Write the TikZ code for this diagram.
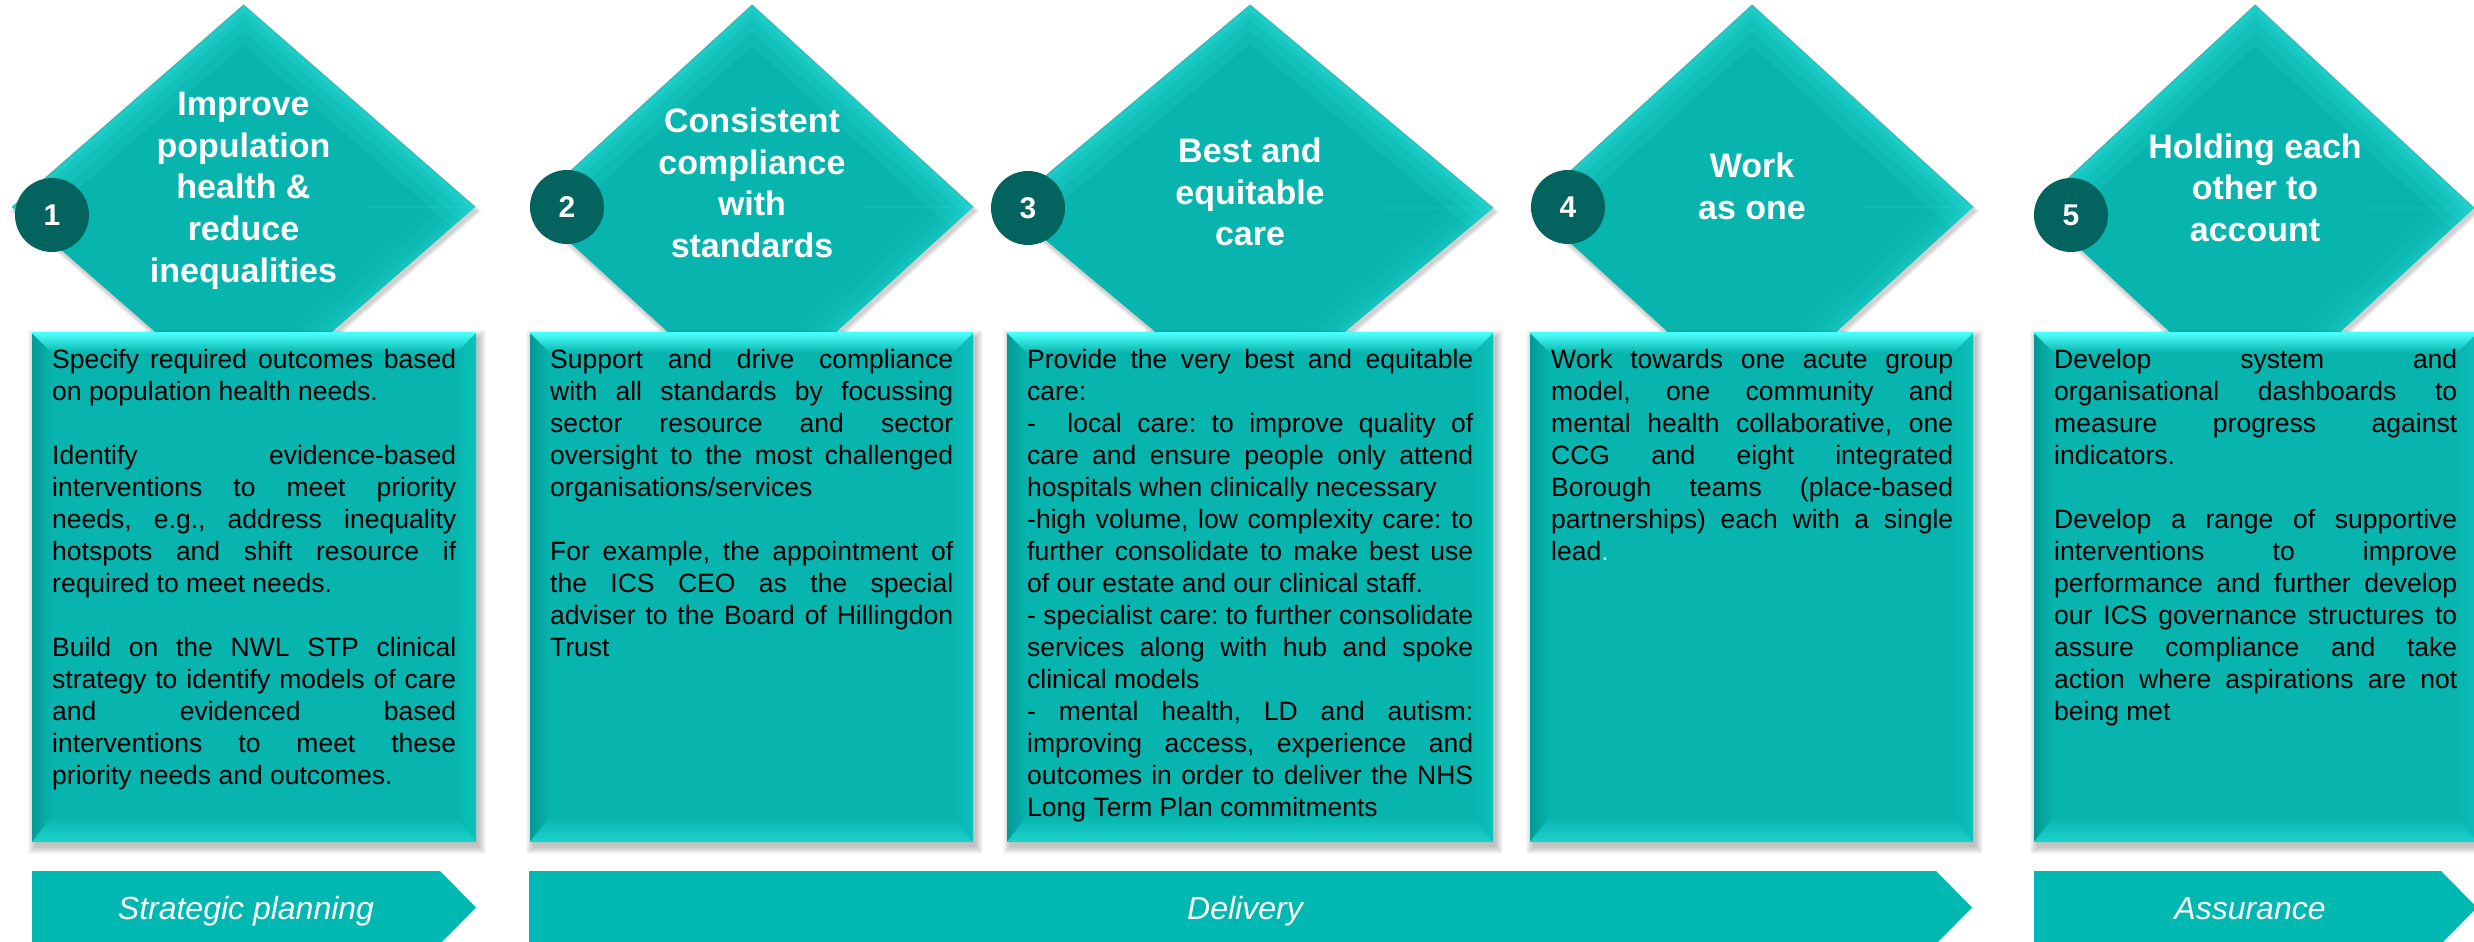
\documentclass[tikz,border=0pt]{standalone}
\usepackage{fontspec}
\setmainfont{Liberation Sans}
\usetikzlibrary{calc}

\definecolor{tealmain}{HTML}{08B4AE}
\definecolor{tealband}{HTML}{00B8B2}
\definecolor{tealdark}{HTML}{03635E}
\definecolor{tealglow}{HTML}{30E4DE}
\definecolor{tealtop}{HTML}{4AFFFB}
\definecolor{tealleft}{HTML}{049A95}
\definecolor{tealright}{HTML}{0BC2BC}
\definecolor{tealbottom}{HTML}{1CD2CC}
\definecolor{tealedge}{HTML}{3E9C98}
\definecolor{dotgrey}{HTML}{BFE9E8}

\hbadness=10000
\hfuzz=8pt

% one justified line: spaces share the extra width evenly
\newlength\linew
\newcommand\jline[1]{\hbox to \linew{\spaceskip=\fontdimen2\font plus 1fil minus 0.06em\relax #1}}
% last line of a paragraph, natural spacing
\newcommand\lastln[1]{\hbox{#1}}
% empty line between paragraphs
\newcommand\gapln{\hbox{}}
% a block of body text; its baseline is the first line's baseline
\newcommand\bodyblock[2]{\vtop{\fontsize{26.5}{32}\selectfont\frenchspacing
  \linew=#1pt\relax\baselineskip=32pt\lineskiplimit=-\maxdimen\relax #2}}
% centred heading lines
\newcommand\ttl[1]{\fontsize{34}{41.7}\selectfont\bfseries\begin{tabular}[t]{@{}c@{}}#1\end{tabular}}

% bevelled diamond: name, centre x, centre y, half width, half height
\newcommand\gem[5]{%
  \coordinate (#1-t) at (#2,{#3-#5});
  \coordinate (#1-l) at ({#2-#4},#3);
  \coordinate (#1-r) at ({#2+#4},#3);
  \coordinate (#1-b) at (#2,{#3+#5});
  \foreach \sh in {0,...,5}{%
    \fill[black,opacity=0.03] ({#2+2},{#3-#5+4-\sh}) -- ({#2-#4+2-\sh},{#3+4})
      -- ({#2+2},{#3+#5+4+\sh}) -- ({#2+#4+2+\sh},{#3+4}) -- cycle;}
  \fill[tealmain] (#1-t) -- (#1-r) -- (#1-b) -- (#1-l) -- cycle;
  \begin{scope}
    \clip (#1-t) -- (#1-r) -- (#1-b) -- (#1-l) -- cycle;
    \foreach \lw/\op/\pp in {60/0.13/0.06,40/0.15/0.08,22/0.18/0.1,10/0.24/0.14}{%
      \draw[tealglow,line width=\lw pt,opacity=\op,line join=miter] (#1-l) -- (#1-t) -- (#1-r);
      \draw[tealglow,line width=\lw pt,opacity=\pp] (#1-r) -- (#1-b);}
    \draw[tealglow,opacity=0.12,line width=1.5pt] ({#2+#4-110},#3) -- (#1-r);
  \end{scope}
  \draw[tealedge,opacity=0.5,line width=1pt,line join=miter] (#1-l) -- (#1-t) -- (#1-r);
}

% bevelled text panel: name, x1, y1, x2, y2
\newcommand\slab[5]{%
  \foreach \sh in {0,...,7}{%
    \fill[black,opacity=0.03] ({#2+3-\sh},{#3+4-\sh}) rectangle ({#4+3+\sh},{#5+5+\sh});}
  \fill[tealmain] (#2,#3) rectangle (#4,#5);
  \shade[left color=tealleft,right color=tealmain]
    (#2,#3) -- ({#2+20},{#3+20}) -- ({#2+20},{#5-26}) -- (#2,#5) -- cycle;
  \shade[left color=tealmain,right color=tealright]
    (#4,#3) -- ({#4-20},{#3+20}) -- ({#4-20},{#5-26}) -- (#4,#5) -- cycle;
  \shade[top color=tealmain,bottom color=tealbottom]
    (#2,#5) -- ({#2+20},{#5-26}) -- ({#4-20},{#5-26}) -- (#4,#5) -- cycle;
  \shade[top color=tealtop,bottom color=tealmain]
    (#2,#3) -- (#4,#3) -- ({#4-20},{#3+20}) -- ({#2+20},{#3+20}) -- cycle;
  \draw[tealtop,line width=1.5pt] (#2,#3) -- (#4,#3);
  \coordinate (#1) at (#2,#3);
}

% arrow-ended phase band: x1, x2 (tip)
\newcommand\phaseband[2]{%
  \fill[tealband] (#1,871) -- ({#2-36},871) -- (#2,907.5) -- ({#2-36},944) -- (#1,944) -- cycle;}

\tikzset{
  numdot/.style={circle,fill=tealdark,minimum size=74pt,inner sep=0pt,text=white,
    font=\fontsize{30}{36}\selectfont\bfseries},
  titletext/.style={inner sep=0pt,text=white,anchor=base},
  bodytext/.style={inner sep=0pt,anchor=base west,text=black},
  bandlabel/.style={inner sep=0pt,anchor=base,text=white,
    font=\fontsize{32}{38}\selectfont\itshape},
}

\begin{document}
\begin{tikzpicture}[x=1pt,y=-1pt]
\useasboundingbox (0,0) rectangle (2474,942);
\fill[white] (0,0) rectangle (2474,942);

% diamonds
\gem{d1}{243.5}{207}{231.5}{202}
\gem{d2}{752}{207}{221}{202}
\gem{d3}{1250}{208}{243}{203}
\gem{d4}{1752}{207}{221}{202}
\gem{d5}{2255}{208}{219}{203}

% text panels
\slab{b1}{32}{333}{476}{842}
\slab{b2}{530}{333}{973}{842}
\slab{b3}{1007}{333}{1493}{842}
\slab{b4}{1530}{333}{1973}{842}
\slab{b5}{2034}{333}{2477}{842}

% phase bands
\phaseband{32}{476}
\phaseband{529}{1972}
\phaseband{2034}{2477}

% numbered dots
\node[numdot] (n1) at (52,215) {1};
\node[numdot] (n2) at (567,207) {2};
\node[numdot] (n3) at (1028,208) {3};
\node[numdot] (n4) at (1568,207) {4};
\node[numdot] (n5) at (2071,215) {5};

% headings
\node[titletext] (t1) at (243.5,115.5) {\ttl{Improve\\population\\health \&\\reduce\\inequalities}};
\node[titletext] (t2) at (752,132.5) {\ttl{Consistent\\compliance\\with\\standards}};
\node[titletext] (t3) at (1250,162.5) {\ttl{Best and\\equitable\\care}};
\node[titletext] (t4) at (1752,177.5) {\ttl{Work\\as one}};
\node[titletext] (t5) at (2255,158) {\ttl{Holding each\\other to\\account}};

% panel texts
\node[bodytext] (p1) at (52,368) {\bodyblock{404}{%
  \jline{Specify required outcomes based}
  \lastln{on population health needs.}
  \gapln
  \jline{Identify evidence-based}
  \jline{interventions to meet priority}
  \jline{needs, e.g., address inequality}
  \jline{hotspots and shift resource if}
  \lastln{required to meet needs.}
  \gapln
  \jline{Build on the NWL STP clinical}
  \jline{strategy to identify models of care}
  \jline{and evidenced based}
  \jline{interventions to meet these}
  \lastln{priority needs and outcomes.}}};

\node[bodytext] (p2) at (550,368) {\bodyblock{403}{%
  \jline{Support and drive compliance}
  \jline{with all standards by focussing}
  \jline{sector resource and sector}
  \jline{oversight to the most challenged}
  \lastln{organisations/services}
  \gapln
  \jline{For example, the appointment of}
  \jline{the ICS CEO as the special}
  \jline{adviser to the Board of Hillingdon}
  \lastln{Trust}}};

\node[bodytext] (p3) at (1027,368) {\bodyblock{446}{%
  \jline{Provide the very best and equitable}
  \lastln{care:}
  \jline{-\hspace{0.6em} local care: to improve quality of}
  \jline{care and ensure people only attend}
  \lastln{hospitals when clinically necessary}
  \jline{-high volume, low complexity care: to}
  \jline{further consolidate to make best use}
  \lastln{of our estate and our clinical staff.}
  \jline{- specialist care: to further consolidate}
  \jline{services along with hub and spoke}
  \lastln{clinical models}
  \jline{- mental health, LD and autism:}
  \jline{improving access, experience and}
  \jline{outcomes in order to deliver the NHS}
  \lastln{Long Term Plan commitments}}};

\node[bodytext] (p4) at (1551,368) {\bodyblock{402}{%
  \jline{Work towards one acute group}
  \jline{model, one community and}
  \jline{mental health collaborative, one}
  \jline{CCG and eight integrated}
  \jline{Borough teams (place-based}
  \jline{partnerships) each with a single}
  \lastln{lead\textcolor{dotgrey}{.}}}};

\node[bodytext] (p5) at (2054,368) {\bodyblock{403}{%
  \jline{Develop system and}
  \jline{organisational dashboards to}
  \jline{measure progress against}
  \lastln{indicators.}
  \gapln
  \jline{Develop a range of supportive}
  \jline{interventions to improve}
  \jline{performance and further develop}
  \jline{our ICS governance structures to}
  \jline{assure compliance and take}
  \jline{action where aspirations are not}
  \lastln{being met}}};

% phase labels
\node[bandlabel] (s1) at (246,919) {Strategic planning};
\node[bandlabel] (s2) at (1245,919) {Delivery};
\node[bandlabel] (s3) at (2250,919) {Assurance};
\end{tikzpicture}
\end{document}
